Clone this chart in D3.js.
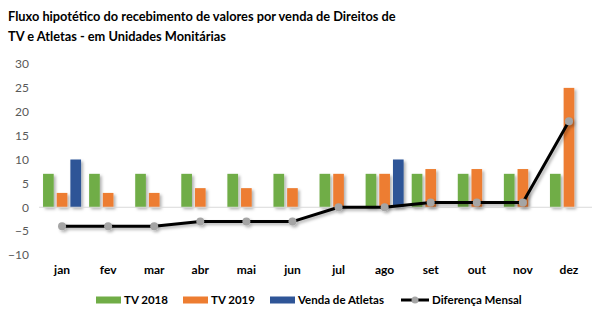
<!DOCTYPE html>
<html>
<head>
<meta charset="utf-8">
<script src="https://cdn.jsdelivr.net/npm/d3@7"></script>
<style>
  body { margin: 0; background: #fff; }
  text { font-family: Lato, "Open Sans", sans-serif; }
</style>
</head>
<body>
<div id="chart"></div>
<script>
// Dados do gráfico
const meses = ["jan", "fev", "mar", "abr", "mai", "jun", "jul", "ago", "set", "out", "nov", "dez"];
const tv2018 = [7, 7, 7, 7, 7, 7, 7, 7, 7, 7, 7, 7];
const tv2019 = [3, 3, 3, 4, 4, 4, 7, 7, 8, 8, 8, 25];
const vendaAtletas = [10, 0, 0, 0, 0, 0, 0, 10, 0, 0, 0, 0];
const diferencaMensal = [-4, -4, -4, -3, -3, -3, 0, 0, 1, 1, 1, 18];
const yTicks = [-10, -5, 0, 5, 10, 15, 20, 25, 30];
const titulo = ["Fluxo hipotético do recebimento de valores por venda de Direitos de",
                "TV e Atletas - em Unidades Monitárias"];

const series = [
  {label: "TV 2018", values: tv2018, color: "#70AD47"},
  {label: "TV 2019", values: tv2019, color: "#ED7D31"},
  {label: "Venda de Atletas", values: vendaAtletas, color: "#2F5597"}
];

const width = 608, height = 326;
const margin = {left: 39, right: 16, top: 64, bottom: 71};

const svg = d3.select("#chart").append("svg")
  .attr("width", width)
  .attr("height", height);

// Sombra leve como no Excel
const defs = svg.append("defs");
defs.append("filter").attr("id", "sombra")
  .attr("x", "-50%").attr("y", "-50%").attr("width", "200%").attr("height", "200%")
  .append("feDropShadow")
  .attr("dx", 2).attr("dy", 2).attr("stdDeviation", 1.5)
  .attr("flood-color", "#000").attr("flood-opacity", 0.3);

// Título
svg.append("g").selectAll("text")
  .data(titulo)
  .join("text")
  .attr("x", 8)
  .attr("y", (d, i) => 21 + i * 20)
  .attr("font-size", 12.8)
  .attr("font-weight", "bold")
  .attr("fill", "#000")
  .text(d => d);

// Escalas
const x = d3.scaleBand().domain(meses)
  .range([margin.left, width - margin.right]);
const y = d3.scaleLinear().domain([-10, 30])
  .range([255, 64]);
const xSub = d3.scaleBand().domain(series.map(s => s.label))
  .range([0, 38]).paddingInner(0.22);

// Eixo Y (rótulos apenas)
const yAxis = svg.append("g")
  .attr("transform", `translate(${margin.left - 10},0)`)
  .call(d3.axisLeft(y).tickValues(yTicks).tickSize(0).tickPadding(0));
yAxis.select(".domain").remove();
yAxis.selectAll("text")
  .attr("font-size", 12)
  .attr("fill", "#595959")
  .style("font-family", "Lato, 'Open Sans', sans-serif");

// Barras
const groupOffset = (x.bandwidth() - 38) / 2;
series.forEach(s => {
  svg.append("g")
    .attr("filter", "url(#sombra)")
    .selectAll("rect")
    .data(meses.map((m, i) => ({mes: m, value: s.values[i]})).filter(d => d.value !== 0))
    .join("rect")
    .attr("x", d => x(d.mes) + groupOffset + xSub(s.label))
    .attr("width", xSub.bandwidth())
    .attr("y", d => y(Math.max(0, d.value)))
    .attr("height", d => Math.abs(y(d.value) - y(0)))
    .attr("fill", s.color);
});

// Linha do zero
svg.append("line")
  .attr("x1", margin.left).attr("x2", width - margin.right)
  .attr("y1", y(0)).attr("y2", y(0))
  .attr("stroke", "#D9D9D9").attr("stroke-width", 1);

// Eixo X (rótulos)
const xAxis = svg.append("g")
  .attr("transform", `translate(0,${y(-10)})`)
  .call(d3.axisBottom(x).tickSize(0).tickPadding(10));
xAxis.select(".domain").remove();
xAxis.selectAll("text")
  .attr("font-size", 12)
  .attr("font-weight", "bold")
  .attr("fill", "#000")
  .style("font-family", "Lato, 'Open Sans', sans-serif");

// Linha Diferença Mensal
const cx = (d, i) => x(meses[i]) + x.bandwidth() / 2;
const linha = d3.line().x(cx).y(d => y(d));
const gLinha = svg.append("g").attr("filter", "url(#sombra)");
gLinha.append("path")
  .datum(diferencaMensal)
  .attr("d", linha)
  .attr("fill", "none")
  .attr("stroke", "#000")
  .attr("stroke-width", 3)
  .attr("stroke-linejoin", "round");
gLinha.selectAll("circle")
  .data(diferencaMensal)
  .join("circle")
  .attr("cx", cx)
  .attr("cy", d => y(d))
  .attr("r", 4)
  .attr("fill", "#A5A5A5");

// Legenda
const legendaItens = [
  {label: "TV 2018", color: "#70AD47", x: 96, type: "bar"},
  {label: "TV 2019", color: "#ED7D31", x: 183, type: "bar"},
  {label: "Venda de Atletas", color: "#2F5597", x: 270, type: "bar"},
  {label: "Diferença Mensal", color: "#000", x: 401, type: "line"}
];
const legenda = svg.append("g").attr("transform", "translate(0,300)");
legendaItens.forEach(it => {
  const g = legenda.append("g").attr("transform", `translate(${it.x},0)`);
  if (it.type === "bar") {
    g.append("rect").attr("x", 0).attr("y", -3.5).attr("width", 25).attr("height", 7).attr("fill", it.color);
  } else {
    g.append("line").attr("x1", 0).attr("x2", 28).attr("y1", 0).attr("y2", 0)
      .attr("stroke", "#000").attr("stroke-width", 3);
    g.append("circle").attr("cx", 14).attr("cy", 0).attr("r", 3.5).attr("fill", "#A5A5A5");
  }
  g.append("text")
    .attr("x", it.type === "bar" ? 28 : 31)
    .attr("y", 0)
    .attr("dy", "0.35em")
    .attr("font-size", 11.5)
    .attr("font-weight", "bold")
    .attr("fill", "#000")
    .text(it.label);
});
</script>
</body>
</html>
